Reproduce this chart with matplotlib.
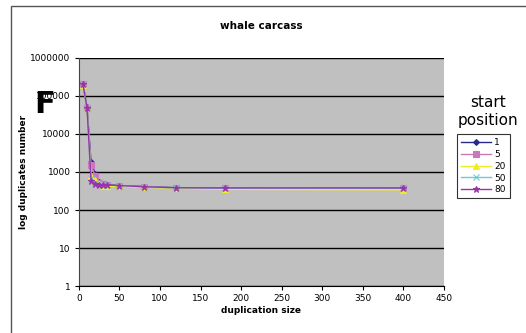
import matplotlib.pyplot as plt
import matplotlib.patches as patches

# duplication sizes and duplicate counts per start position
sizes = [5, 10, 15, 20, 25, 30, 35, 50, 80, 120, 180, 400]
pos_1 = [210000, 50000, 1800, 900, 560, 480, 460, 440, 415, 385, 375, 375]
pos_5 = [205000, 49000, 1500, 780, 520, 470, 450, 435, 410, 380, 370, 370]
pos_20 = [200000, 48000, 800, 600, 470, 430, 420, 420, 400, 370, 350, 340]
pos_50 = [205000, 49000, 700, 520, 470, 450, 450, 440, 410, 385, 375, 375]
pos_80 = [205000, 49000, 580, 470, 460, 455, 455, 440, 410, 385, 380, 380]
labels = ['1', '5', '20', '50', '80']

series = [pos_1, pos_5, pos_20, pos_50, pos_80]
colors = ['#2A2A8C', '#CC77BB', '#EEEE22', '#66CCDD', '#9933AA']
markers = ['D', 's', '^', 'x', '*']
msizes = [3, 4.5, 4, 4, 5]

fig = plt.figure(figsize=(5.26, 3.33), dpi=100)
ax = fig.add_axes([0.150, 0.141, 0.694, 0.685])
ax.set_facecolor('#C0C0C0')

for y, c, m, ms, lab in zip(series, colors, markers, msizes, labels):
    ax.plot(sizes, y, color=c, marker=m, markersize=ms, linewidth=1,
            markeredgewidth=0.8, label=lab)

ax.set_yscale('log')
ax.set_ylim(1, 1e6)
ax.set_xlim(0, 450)
ax.set_xticks(range(0, 451, 50))
ax.set_yticks([1, 10, 100, 1000, 10000, 100000, 1000000])
ax.set_yticklabels(['1', '10', '100', '1000', '10000', '100000', '1000000'])
ax.minorticks_off()
ax.grid(axis='y', color='black', linewidth=1)
ax.set_axisbelow(True)
ax.tick_params(labelsize=6.5, length=3, direction='out', pad=3)
for s in ['top', 'right']:
    ax.spines[s].set_visible(False)
ax.spines['left'].set_color('#444444')
ax.spines['bottom'].set_color('black')

ax.set_title('whale carcass', fontsize=7.5, fontweight='bold', pad=21)
ax.set_xlabel('duplication size', fontsize=6.5, fontweight='bold', labelpad=2)
ax.set_ylabel('log duplicates number', fontsize=6.5, fontweight='bold', labelpad=2)

leg = ax.legend(loc='upper left', bbox_to_anchor=(1.035, 0.665), fontsize=6.5,
                frameon=True, fancybox=False, edgecolor='black',
                handlelength=3.4, handletextpad=0.3, labelspacing=0.3,
                borderpad=0.45, borderaxespad=0)
leg.get_frame().set_linewidth(0.8)

fig.text(0.928, 0.665, 'start\nposition', ha='center', va='center',
         fontsize=11, linespacing=1.2)
fig.text(0.085, 0.685, 'F', ha='center', va='center', fontsize=22,
         fontweight='bold')

fig.patches.append(patches.Rectangle((11 / 526, -0.1), 1.2, 1 - 6 / 333 + 0.1,
                                     transform=fig.transFigure, fill=False,
                                     edgecolor='#555555', linewidth=1))

fig.savefig('out.png', dpi=100)
